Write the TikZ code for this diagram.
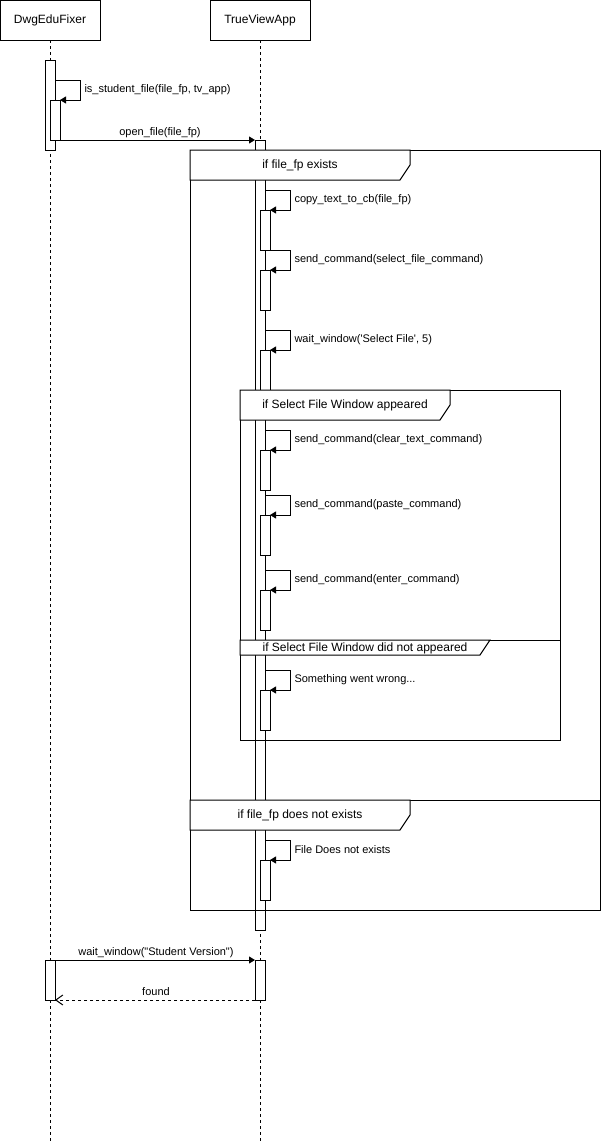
\documentclass[tikz,border=0pt]{standalone}
\usepackage{fontspec}
\setmainfont{Liberation Sans}[Ligatures=TeXOff]
\usetikzlibrary{arrows.meta}

\begin{document}
\begin{tikzpicture}[x=1pt,y=-1pt,line width=1pt,
	actor/.style={draw,minimum width=100pt,minimum height=40pt,inner sep=0pt,outer sep=0pt,font=\fontsize{12}{14}\selectfont},
	lifeline/.style={dash pattern=on 3pt off 3pt},
	activation/.style={draw,fill=white,minimum width=10pt,inner sep=0pt,outer sep=0pt},
	call/.style={-{Triangle[length=6pt,width=7pt]}},
	reply/.style={dash pattern=on 3pt off 3pt,-{Straight Barb[length=7pt,width=10pt]}},
	lbl/.style={font=\fontsize{11}{13}\selectfont,inner sep=0pt},
	tablbl/.style={font=\fontsize{12}{14}\selectfont,inner sep=0pt},
	tab/.style={draw,fill=white,line join=miter}
]

\useasboundingbox (0,0) rectangle (601,1141);

\def\xa{50}
\def\xb{260}
\def\bottom{1141}

% \selfcall{name}{top}{label}
\newcommand*{\selfcall}[3]{
	\coordinate (#1-out) at (\xb+5,#2);
	\coordinate (#1-turn) at (\xb+30,#2);
	\coordinate (#1-back) at (\xb+30,#2+20);
	\node [activation,minimum height=40pt,anchor=north west] (#1) at (\xb,#2+20) {};
	\draw [call] (#1-out) -- (#1-turn) -- (#1-back) -- (#1.north east);
	\node [lbl,anchor=west] (#1-lbl) at (\xb+34,#2+10) {#3};
}

	% lifelines
	\node [actor] (fixer) at (\xa,20) {DwgEduFixer};
	\node [actor] (tvapp) at (\xb,20) {TrueViewApp};
	\coordinate (fixer-end) at (\xa,\bottom);
	\coordinate (tvapp-end) at (\xb,\bottom);
	\draw [lifeline] (fixer) -- (fixer-end);
	\draw [lifeline] (tvapp) -- (tvapp-end);

	% is_student_file / open_file
	\node [activation,minimum height=90pt,anchor=north] (fixA) at (\xa,60) {};
	\node [activation,minimum height=40pt,anchor=north west] (fixB) at (\xa,100) {};
	\coordinate (stud-out) at (\xa+5,80);
	\coordinate (stud-turn) at (\xa+30,80);
	\coordinate (stud-back) at (\xa+30,100);
	\draw [call] (stud-out) -- (stud-turn) -- (stud-back) -- (fixB.north east);
	\node [lbl,anchor=west] (stud-lbl) at (\xa+34,90) {is\_student\_file(file\_fp, tv\_app)};

	\node [activation,minimum height=790pt,anchor=north] (tvA) at (\xb,140) {};
	\draw [call] (fixB.south east) -- (tvA.north west);
	\node [lbl,anchor=base] (open-lbl) at (160,135) {open\_file(file\_fp)};

	\selfcall{copy}{190}{copy\_text\_to\_cb(file\_fp)}
	\selfcall{sel}{250}{send\_command(select\_file\_command)}
	\selfcall{wait}{330}{wait\_window('Select File', 5)}
	\selfcall{clear}{430}{send\_command(clear\_text\_command)}
	\selfcall{paste}{495}{send\_command(paste\_command)}
	\selfcall{enter}{570}{send\_command(enter\_command)}
	\selfcall{wrong}{670}{Something went wrong...}
	\selfcall{nofile}{840}{File Does not exists}

	% alt frames
	\draw (190,150) rectangle (600,910);
	\draw (190,800) -- (600,800);
	\draw [tab] (190,150) -- (410,150) -- (410,165) -- (400,180) -- (190,180) -- cycle;
	\node [tablbl] (alt1) at (300,165) {if file\_fp exists};
	\draw [tab] (190,800) -- (410,800) -- (410,815) -- (400,830) -- (190,830) -- cycle;
	\node [tablbl] (alt2) at (300,815) {if file\_fp does not exists};

	\draw (240,390) rectangle (560,740);
	\draw (240,640) -- (560,640);
	\draw [tab] (240,390) -- (450,390) -- (450,405) -- (440,420) -- (240,420) -- cycle;
	\node [tablbl] (alt3) at (345,405) {if Select File Window appeared};
	\draw [tab] (240,640) -- (490,640) -- (480,655) -- (240,655) -- cycle;
	\node [tablbl] (alt4) at (365,648) {if Select File Window did not appeared};

	% wait for student version
	\node [activation,minimum height=40pt,anchor=north] (fixC) at (\xa,960) {};
	\node [activation,minimum height=40pt,anchor=north] (tvC) at (\xb,960) {};
	\draw [call] (fixC.north east) -- (tvC.north west);
	\node [lbl,anchor=base] (wait-lbl) at (156,955) {wait\_window("Student Version")};
	\draw [reply] (tvC.south west) -- (fixC.south east);
	\node [lbl,anchor=base] (found-lbl) at (156,995) {found};

\end{tikzpicture}
\end{document}
